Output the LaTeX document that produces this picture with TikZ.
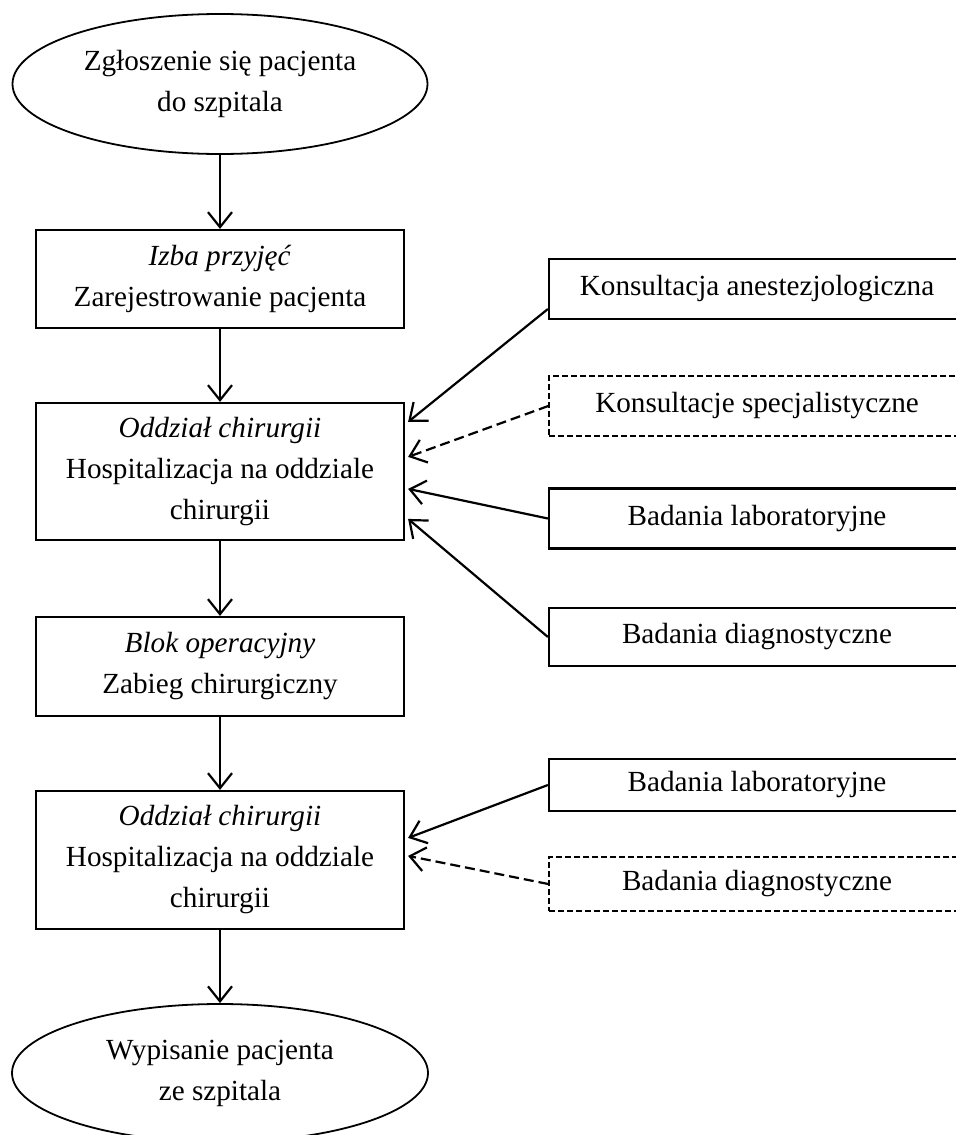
\documentclass[tikz,border=0pt]{standalone}
\usepackage{fontspec}
\setmainfont{Liberation Serif}
\usetikzlibrary{arrows.meta,shapes.geometric}
\tikzset{My Text Style/.style={align=center, inner sep=0pt, font=\fontsize{14.6}{20.5}\selectfont},
	My Box Style/.style={My Text Style, draw, line width=1.1pt, minimum width=184pt},
	My Oval Style/.style={My Text Style, draw, ellipse, line width=0.9pt, minimum width=207.5pt, minimum height=70pt},
	My Side Style/.style={My Text Style, draw, line width=1.1pt, minimum width=208pt, minimum height=30pt},
	My Dashed Side Style/.style={My Side Style, line width=0.7pt, dash pattern=on 3pt off 1.5pt},
	My Arrow Style/.style={line width=1.1pt, -{Straight Barb[length=7.5pt,width=12pt,line width=1.1pt]}},
	My Dashed Arrow Style/.style={My Arrow Style, dash pattern=on 5pt off 2.5pt}}

\begin{document}
\begin{tikzpicture}[x=0.5pt,y=-0.5pt]
	\useasboundingbox (0,0) rectangle (955,1135);
	
	\node[My Oval Style] (start) at (220,84) {Zgłoszenie się pacjenta\\do szpitala};
	\node[My Box Style, minimum height=49pt] (izba) at (220,279) {\textit{Izba przyjęć}\\Zarejestrowanie pacjenta};
	\node[My Box Style, minimum height=68.5pt] (hospA) at (220,471.5) {\textit{Oddział chirurgii}\\Hospitalizacja na oddziale\\chirurgii};
	\node[My Box Style, minimum height=49.5pt] (blok) at (220,666.5) {\textit{Blok operacyjny}\\Zabieg chirurgiczny};
	\node[My Box Style, minimum height=69pt] (hospB) at (220,860) {\textit{Oddział chirurgii}\\Hospitalizacja na oddziale\\chirurgii};
	\node[My Oval Style, minimum height=69pt, minimum width=208pt] (koniec) at (220,1073) {Wypisanie pacjenta\\ze szpitala};
	
	\node[My Side Style] (anest) at (757,289) {Konsultacja anestezjologiczna};
	\node[My Dashed Side Style] (spec) at (757,406) {Konsultacje specjalistyczne};
	\node[My Side Style] (labA) at (757,518.5) {Badania laboratoryjne};
	\node[My Side Style, minimum height=29pt] (diagA) at (757,637) {Badania diagnostyczne};
	\node[My Side Style, minimum height=26pt] (labB) at (757,785) {Badania laboratoryjne};
	\node[My Dashed Side Style, minimum height=27pt] (diagB) at (757,884) {Badania diagnostyczne};
	
	\draw[My Arrow Style] (start) -- (izba);
	\draw[My Arrow Style] (izba) -- (hospA);
	\draw[My Arrow Style] (hospA) -- (blok);
	\draw[My Arrow Style] (blok) -- (hospB);
	\draw[My Arrow Style] (hospB) -- (koniec);
	
	\draw[My Arrow Style] ([yshift=-10pt]anest.west) -- ([xshift=1.5pt,yshift=-10pt]hospA.north east);
	\draw[My Dashed Arrow Style] (spec.west) -- ([xshift=1.5pt,yshift=-27.5pt]hospA.north east);
	\draw[My Arrow Style] (labA.west) -- ([xshift=1.5pt,yshift=-43.5pt]hospA.north east);
	\draw[My Arrow Style] (diagA.west) -- ([xshift=1.5pt,yshift=-58.5pt]hospA.north east);
	\draw[My Arrow Style] (labB.west) -- ([xshift=1.5pt,yshift=-24pt]hospB.north east);
	\draw[My Dashed Arrow Style] (diagB.west) -- ([xshift=1.5pt,yshift=-33pt]hospB.north east);
\end{tikzpicture}
\end{document}
